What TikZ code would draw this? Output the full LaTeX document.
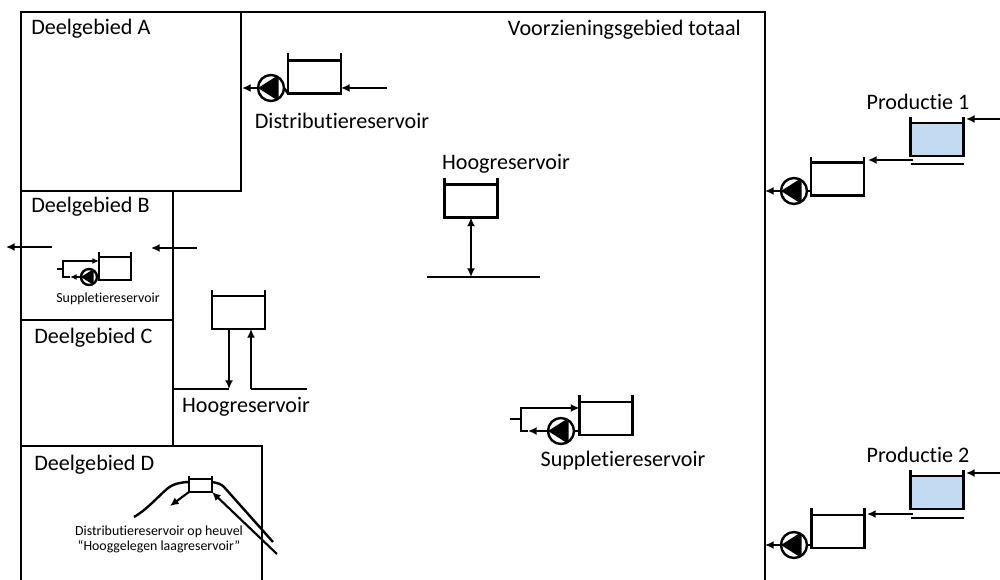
\documentclass[tikz,border=0pt]{standalone}
\usepackage{fontspec}
\setmainfont[Ligatures=NoCommon]{Carlito}
\usetikzlibrary{calc,arrows.meta}
\definecolor{waterblue}{HTML}{C2DAF2}
\tikzset{
  wall/.style={line width=1.8pt},
  pipe/.style={line width=1.6pt,-{Latex[length=6.5pt,width=6pt]}},
  bothpipe/.style={line width=1.6pt,{Latex[length=6.5pt,width=6pt]}-{Latex[length=6.5pt,width=6pt]}},
  tankbox/.style={draw,line width=1.8pt,rectangle,inner sep=0pt,outer sep=0pt,minimum width=39.75pt,minimum height=24.75pt},
  smalltank/.style={tankbox,minimum width=24pt,minimum height=17.25pt},
  hilltank/.style={tankbox,minimum width=17.25pt,minimum height=9.75pt},
  pumpnode/.style={draw,line width=1.8pt,circle,fill=white,inner sep=0pt,outer sep=0pt,minimum size=#1,
    path picture={\fill[black] (path picture bounding box.west) -- (path picture bounding box.60)
      -- (path picture bounding box.-60) -- cycle;}},
  pumpnode/.default=19.5pt,
  biglabel/.style={font=\fontsize{16.6}{20}\selectfont,inner sep=0pt},
  tinylabel/.style={font=\fontsize{10.4}{11.5}\selectfont,inner sep=0pt,align=center}
}
\newcommand{\tankwalls}[2]{\draw[wall] (#1.north west) -- ++(0,-#2) (#1.north east) -- ++(0,-#2);}
\begin{document}
\begin{tikzpicture}[x=0.75pt,y=-0.75pt]
  \useasboundingbox (0,0) rectangle (1000,580);
  % gebieden
  \draw[wall] (21,590) -- (21,12) -- (765,12) -- (765,590);
  \draw[wall] (241,12) -- (241,191) -- (21,191);
  \draw[wall] (173,191) -- (173,446);
  \draw[wall] (21,320) -- (173,320);
  \draw[wall] (21,446) -- (262,446) -- (262,590);
  \node[biglabel,anchor=west] (labelA) at (31,29) {Deelgebied A};
  \node[biglabel,anchor=west] (labelB) at (31,207) {Deelgebied B};
  \node[biglabel,anchor=west] (labelC) at (34,338) {Deelgebied C};
  \node[biglabel,anchor=west] (labelD) at (34,465) {Deelgebied D};
  \node[biglabel,anchor=east] (labelTotaal) at (741,30) {Voorzieningsgebied totaal};

  % distributiereservoir
  \node[tankbox] (tankDist) at (314.5,77) {};
  \node[pumpnode] (pumpDist) at (271,88) {};
  \coordinate (inDist) at (387,88);
  \coordinate (outDist) at (242,88);
  \draw[pipe] (inDist) -- (tankDist.east |- inDist);
  \draw[wall] (pumpDist.east) -- (tankDist.south west);
  \draw[pipe] (pumpDist.west) -- (outDist);
  \node[biglabel] (labelDist) at (342,121) {Distributiereservoir};

  % hoogreservoir midden
  \node[tankbox] (tankHoog) at (471,201) {};
  \coordinate (netHoog) at (471,277);
  \coordinate (netHoogL) at (427,277);
  \coordinate (netHoogR) at (540,277);
  \draw[bothpipe] (tankHoog.south) -- (netHoog);
  \draw[wall] (netHoogL) -- (netHoogR);
  \node[biglabel] (labelHoog) at (506,164) {Hoogreservoir};

  % deelgebied B
  \coordinate (outBstart) at (52,247);
  \coordinate (outBend) at (6,247);
  \coordinate (inBstart) at (197,248);
  \coordinate (inBend) at (151,248);
  \draw[pipe] (outBstart) -- (outBend);
  \draw[pipe] (inBstart) -- (inBend);
  \node[smalltank] (tankB) at (115,268.5) {};
  \node[pumpnode=12pt] (pumpB) at (89,277) {};
  \coordinate (stubB) at (57,269);
  \coordinate (cornerB) at (63,269);
  \draw[wall] (stubB) -- (cornerB);
  \draw[line width=1.3pt,-{Latex[length=5pt,width=4.5pt]}] (cornerB) -- (63,261) -- (tankB.west |- 0,261);
  \draw[line width=1.3pt,-{Latex[length=5pt,width=4.5pt]}] (pumpB.west) -- (70,277);
  \draw[line width=1.3pt] (70,277) -- (63,277) -- (cornerB);
  \node[tinylabel] (labelSupB) at (108,299) {Suppletiereservoir};

  % hoogreservoir bij C
  \node[tankbox] (tankC) at (238.5,312.5) {};
  \coordinate (netCL) at (173,389);
  \coordinate (netCa) at (229,389);
  \coordinate (netCb) at (251,389);
  \coordinate (netCR) at (307,389);
  \draw[wall] (netCL) -- (netCa);
  \draw[wall] (netCb) -- (netCR);
  \draw[pipe] (tankC.south -| netCa) -- (netCa);
  \draw[pipe] (netCb) -- (tankC.south -| netCb);
  \node[biglabel] (labelHoogC) at (246,407) {Hoogreservoir};

  % suppletiereservoir
  \node[tankbox] (tankSup) at (606,418.5) {};
  \node[pumpnode] (pumpSup) at (561,431) {};
  \coordinate (stubSup) at (510,419);
  \coordinate (cornerSup) at (521,419);
  \draw[wall] (stubSup) -- (cornerSup);
  \draw[pipe] (cornerSup) -- (521,408) -- (tankSup.west |- 0,408);
  \draw[wall] (pumpSup.east) -- (tankSup.west |- pumpSup);
  \draw[pipe] (pumpSup.west) -- (528,431);
  \draw[wall] (528,431) -- (521,431) -- (cornerSup);
  \node[biglabel] (labelSup) at (623,461) {Suppletiereservoir};

  % productie 1
  \node[tankbox,fill=waterblue] (tankProdA) at (937,139.5) {};
  \node[tankbox] (tankOutA) at (837.5,179) {};
  \node[pumpnode] (pumpA) at (794,191) {};
  \coordinate (inA) at (1000,119);
  \coordinate (outA) at (765,191);
  \coordinate (fromA) at (913,160);
  \draw[pipe] (inA) -- (966,119);
  \draw[pipe] (fromA) -- (868,160);
  \draw[wall] (tankProdA.south west |- 0,164) -- (tankProdA.south east |- 0,164);
  \draw[wall] (pumpA.east) -- (tankOutA.west |- pumpA);
  \draw[pipe] (pumpA.west) -- (outA);
  \node[biglabel] (labelProdA) at (918,102) {Productie 1};

  % productie 2
  \node[tankbox,fill=waterblue] (tankProdB) at (937,492.5) {};
  \node[tankbox] (tankOutB) at (838,531.5) {};
  \node[pumpnode] (pumpC) at (794,545) {};
  \coordinate (inC) at (1000,473);
  \coordinate (outC) at (765,545);
  \coordinate (fromC) at (913,514);
  \draw[pipe] (inC) -- (966,473);
  \draw[pipe] (fromC) -- (867,514);
  \draw[wall] (tankProdB.south west |- 0,518) -- (tankProdB.south east |- 0,518);
  \draw[wall] (pumpC.east) -- (tankOutB.west |- pumpC);
  \draw[pipe] (pumpC.west) -- (outC);
  \node[biglabel] (labelProdB) at (918,455) {Productie 2};

  % heuvel
  \node[hilltank] (tankHill) at (200.5,485.5) {};
  \draw[wall] (134,517) .. controls (150,508) and (165,488) .. (173,485) .. controls (178,483) and (184,482) .. (tankHill.west |- 0,482);
  \draw[wall] (tankHill.east |- 0,482) .. controls (218,483) and (221,484) .. (224,487) -- (273,542);
  \draw[pipe] (tankHill.south west) -- (170,506);
  \coordinate (inHill) at (277,554);
  \draw[pipe] (inHill) -- (tankHill.south east);
  \node[tinylabel] (labelHill) at (159,539.5) {Distributiereservoir op heuvel\\``Hooggelegen laagreservoir''};

  % wanden van de bakken
  \foreach \tank/\rise in {tankDist/7,tankHoog/6,tankC/6,tankSup/7,tankProdA/6,tankOutA/5,tankProdB/6,tankOutB/7,tankB/5,tankHill/3}{
    \tankwalls{\tank}{\rise}
  }
\end{tikzpicture}
\end{document}
